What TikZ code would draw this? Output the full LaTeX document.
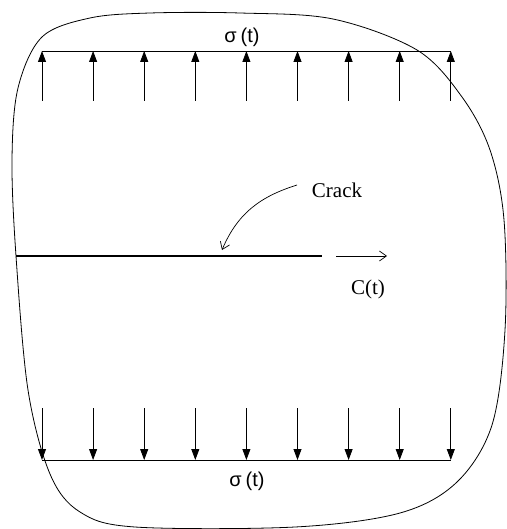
\documentclass[tikz,border=0pt]{standalone}
\usepackage{fontspec}
\setmainfont{Liberation Serif}
\newfontfamily\sansf{Liberation Sans}
\usetikzlibrary{arrows.meta}
\begin{document}
\begin{tikzpicture}[x=1pt,y=-1pt,line width=0.8pt,
  load/.style={-{Triangle[width=8pt,length=11pt]}},
  openarrow/.style={-{Straight Barb[length=7pt,width=10pt]}},
  lbl/.style={font=\fontsize{21}{24}\selectfont,inner sep=0pt},
  siglbl/.style={font=\sansf\fontsize{20}{23}\selectfont,inner sep=0pt}]
\useasboundingbox (0,0) rectangle (506,529);
% body outline
\draw plot[smooth cycle, tension=0.55] coordinates {
  (150,13) (240,13) (333,19) (417,50) (462,97) (490,150) (504,220)
  (505,330) (492,425) (457,482) (400,513) (295,527) (135,527) (80,512)
  (50,474) (28,390) (16,256) (12,160) (18,88) (42,37) (90,18)};
% top load
\coordinate (t1) at (42,51); \coordinate (t9) at (451,51);
\draw (t1) -- (t9);
\foreach \i in {0,...,8}{
  \coordinate (ta\i) at ({42+51.1*\i},101);
  \coordinate (tb\i) at ({42+51.1*\i},51);
  \draw[load] (ta\i) -- (tb\i);
}
\node[siglbl] (sigtop) at (242,37) {σ\hspace{4pt}(t)};
% bottom load
\coordinate (b1) at (42,460); \coordinate (b9) at (451,460);
\draw (b1) -- (b9);
\foreach \i in {0,...,8}{
  \coordinate (ba\i) at ({42+51.1*\i},408);
  \coordinate (bb\i) at ({42+51.1*\i},460);
  \draw[load] (ba\i) -- (bb\i);
}
\node[siglbl] (sigbot) at (247,481) {σ\hspace{4pt}(t)};
% crack
\coordinate (cs) at (16,256); \coordinate (ce) at (322,256);
\draw[line width=2pt] (cs) -- (ce);
\node[lbl] (crk) at (337,190) {Crack};
\coordinate (p0) at (297,185);
\coordinate (ptip) at (222,250);
\draw[openarrow,line width=0.7pt] (p0) .. controls (262,196) and (238,212) .. (ptip);
% growth arrow
\coordinate (g0) at (336,256); \coordinate (g1) at (387,256);
\draw[openarrow,line width=0.7pt] (g0) -- (g1);
\node[lbl] (ct) at (368,289) {C(t)};
\end{tikzpicture}
\end{document}
